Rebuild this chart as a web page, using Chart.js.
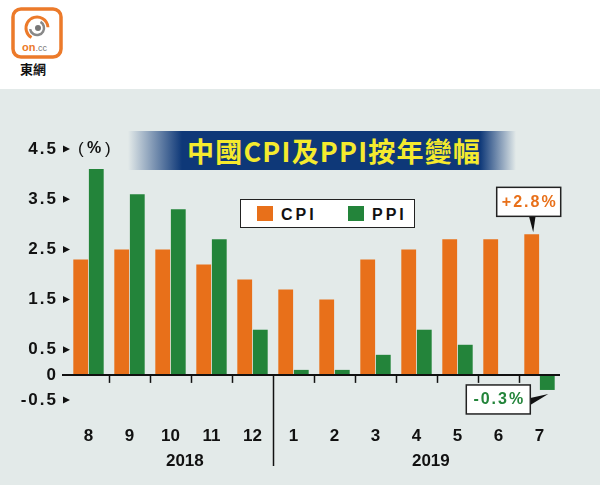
<!DOCTYPE html>
<html>
<head>
<meta charset="utf-8">
<script src="https://cdn.jsdelivr.net/npm/chart.js@4.4.1/dist/chart.umd.min.js"></script>
<style>
  body { margin: 0; width: 600px; height: 485px; position: relative; overflow: hidden; background: #fff; font-family: "Liberation Sans", Arial, sans-serif; }
  #panel { position: absolute; left: 0; top: 89px; width: 600px; height: 396px; background: #e3eae9; }
  #banner { position: absolute; left: 128px; top: 131px; width: 388px; height: 39px;
    background: linear-gradient(to right, rgba(14,56,120,0) 0px, #0e3878 54px, #0e3878 352px, rgba(14,56,120,0) 388px); }
  #title { position: absolute; left: 187px; top: 131px; height: 39px; line-height: 39px; color: #f4ea2e;
    font: bold 27px "Noto Sans CJK TC", sans-serif; letter-spacing: 1.2px; white-space: nowrap; }
  #logo { position: absolute; left: 10px; top: 7px; }
  #legend { position: absolute; left: 240px; top: 199px; width: 173px; height: 27px; background: #fff;
    border: 1.5px solid #222; }
  .item { position: absolute; top: 6px; height: 16px; line-height: 16px; font: bold 16px "Liberation Sans", sans-serif; letter-spacing: 3px; color: #111; }
  .sw { display: inline-block; width: 16px; height: 15px; vertical-align: top; margin-right: 8px; }
  canvas { position: absolute; left: 0; top: 0; }
</style>
</head>
<body>
<div id="panel"></div>
<div id="banner"></div>
<div id="title">中國CPI及PPI按年變幅</div>
<svg id="logo" width="56" height="72" viewBox="0 0 56 72">
  <rect x="3" y="2" width="48" height="48" rx="8" fill="#fff" stroke="#ec7a2a" stroke-width="3.5"/>
  <circle cx="27" cy="21" r="11" fill="none" stroke="#ec7a2a" stroke-width="3" stroke-dasharray="45 30" transform="rotate(120 27 21)"/>
  <circle cx="27" cy="21" r="7" fill="none" stroke="#888" stroke-width="2.5" stroke-dasharray="28 20" transform="rotate(-60 27 21)"/>
  <circle cx="28" cy="21" r="3" fill="#777"/>
  <text x="12" y="44" font-family="Liberation Sans" font-weight="bold" font-size="11" fill="#ec7a2a">on<tspan fill="#777" font-size="9" font-weight="normal">.cc</tspan></text>
  <text x="10" y="67" font-family="Noto Sans CJK TC" font-weight="bold" font-size="13" fill="#111">東網</text>
</svg>
<canvas id="chart" width="600" height="485"></canvas>
<div id="legend"></div>
<script>
const months = ["8", "9", "10", "11", "12", "1", "2", "3", "4", "5", "6", "7"];
const years = ["2018", "2019"];
const yearStart = [0, 5];
const cpi = [2.3, 2.5, 2.5, 2.2, 1.9, 1.7, 1.5, 2.3, 2.5, 2.7, 2.7, 2.8];
const ppi = [4.1, 3.6, 3.3, 2.7, 0.9, 0.1, 0.1, 0.4, 0.9, 0.6, 0.0, -0.3];
const yTicks = [4.5, 3.5, 2.5, 1.5, 0.5, 0, -0.5];
const seriesNames = ["CPI", "PPI"];
const seriesColors = ["#e8701a", "#23843a"];

// legend box
const legend = document.getElementById("legend");
const legendX = [16, 107];
seriesNames.forEach((name, i) => {
  const d = document.createElement("div");
  d.className = "item";
  d.style.left = legendX[i] + "px";
  d.innerHTML = '<span class="sw" style="background:' + seriesColors[i] + '"></span>' + name;
  legend.appendChild(d);
});

const fmt = (v) => (v === 0 ? "0" : v.toFixed(1));

const decor = {
  id: "decor",
  afterDatasetsDraw(chart) {
    const { ctx, chartArea, scales } = chart;
    const x = scales.x, y = scales.y;
    const y0 = y.getPixelForValue(0);
    ctx.save();

    // zero line + ticks
    ctx.strokeStyle = "#111";
    ctx.lineWidth = 2;
    ctx.beginPath();
    ctx.moveTo(chartArea.left - 6, y0);
    ctx.lineTo(chartArea.right, y0);
    ctx.stroke();
    ctx.lineWidth = 1.5;
    for (let i = 1; i < months.length; i++) {
      const bx = Math.round((x.getPixelForValue(i - 1) + x.getPixelForValue(i)) / 2) + 0.5;
      const isBreak = yearStart.includes(i);
      ctx.beginPath();
      ctx.moveTo(bx, y0);
      ctx.lineTo(bx, isBreak ? chart.height - 19 : y0 + 8);
      ctx.stroke();
    }

    // x labels
    ctx.fillStyle = "#111";
    ctx.textAlign = "center";
    ctx.textBaseline = "middle";
    ctx.font = 'bold 17px "Liberation Sans"';
    months.forEach((m, i) => ctx.fillText(m, x.getPixelForValue(i), 436));
    years.forEach((yr, k) => {
      const a = yearStart[k], b = k + 1 < yearStart.length ? yearStart[k + 1] - 1 : months.length - 1;
      ctx.fillText(yr, x.getPixelForValue((a + b) / 2 + 0.35), 461);
    });

    // y labels with arrow marks
    ctx.textAlign = "right";
    ctx.letterSpacing = "2px";
    yTicks.forEach((v) => {
      const py = y.getPixelForValue(v);
      ctx.fillText(fmt(v), 58, py);
      if (v !== 0) {
        ctx.beginPath();
        ctx.moveTo(63, py - 3.5);
        ctx.lineTo(70, py);
        ctx.lineTo(63, py + 3.5);
        ctx.closePath();
        ctx.fill();
      }
    });
    ctx.letterSpacing = "0px";
    ctx.textAlign = "left";
    ctx.font = '17px "Liberation Sans"';
    ctx.fillText("(", 78, y.getPixelForValue(yTicks[0]));
    ctx.fillText(")", 105, y.getPixelForValue(yTicks[0]));
    ctx.font = 'bold 16px "Liberation Sans"';
    ctx.fillText("%", 87, y.getPixelForValue(yTicks[0]));

    // callouts on the last bars
    const last = months.length - 1;
    const drawBox = (bx, by, text, color) => {
      ctx.fillStyle = "#fff";
      ctx.fillRect(bx, by, 64, 29);
      ctx.strokeStyle = "#222";
      ctx.lineWidth = 1.5;
      ctx.strokeRect(bx, by, 64, 29);
      ctx.fillStyle = color;
      ctx.font = 'bold 16px "Liberation Sans"';
      ctx.textAlign = "center";
      ctx.letterSpacing = "2px";
      ctx.fillText(text, bx + 33, by + 15);
      ctx.letterSpacing = "0px";
    };
    const c = chart.getDatasetMeta(0).data[last];
    const cx = c.x, cy = c.y;
    ctx.fillStyle = "#111";
    ctx.beginPath();
    ctx.moveTo(cx - 3, cy - 19);
    ctx.lineTo(cx + 4, cy - 19);
    ctx.lineTo(cx + 1.5, cy - 2);
    ctx.closePath();
    ctx.fill();
    drawBox(cx - 35, cy - 47, (cpi[last] > 0 ? "+" : "") + cpi[last].toFixed(1) + "%", seriesColors[0]);

    const p = chart.getDatasetMeta(1).data[last];
    const px = p.x, py = p.y;
    ctx.fillStyle = "#111";
    ctx.beginPath();
    ctx.moveTo(px - 17, py + 8);
    ctx.lineTo(px - 17, py + 15);
    ctx.lineTo(px + 1, py + 4);
    ctx.closePath();
    ctx.fill();
    drawBox(px - 81, py - 5, ppi[last].toFixed(1) + "%", seriesColors[1]);

    ctx.restore();
  },
};

new Chart(document.getElementById("chart"), {
  type: "bar",
  data: {
    labels: months,
    datasets: [
      { label: seriesNames[0], data: cpi, backgroundColor: seriesColors[0] },
      { label: seriesNames[1], data: ppi, backgroundColor: seriesColors[1] },
    ],
  },
  options: {
    responsive: false,
    animation: false,
    devicePixelRatio: 1,
    categoryPercentage: 0.76,
    barPercentage: 0.95,
    layout: { padding: { left: 68, right: 40, top: 149, bottom: 85 } },
    plugins: { legend: { display: false }, tooltip: { enabled: false } },
    scales: {
      x: { display: false },
      y: { display: false, min: -0.5, max: 4.5 },
    },
  },
  plugins: [decor],
});
</script>
</body>
</html>
